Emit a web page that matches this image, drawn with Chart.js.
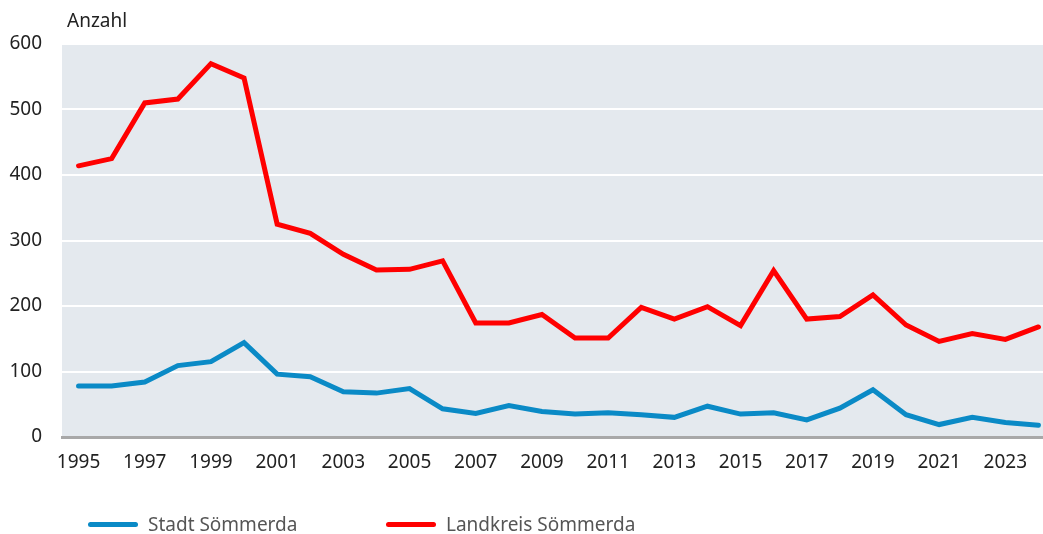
<!DOCTYPE html>
<html>
<head>
<meta charset="utf-8">
<script src="https://cdn.jsdelivr.net/npm/chart.js@4/dist/chart.umd.min.js"></script>
<style>
  html, body { margin: 0; padding: 0; background: #ffffff; overflow: hidden; }
  #wrap { position: relative; width: 1043px; height: 534px; overflow: hidden; }
  canvas { display: block; }
  #legend { position: absolute; top: 511px; left: 0; width: 1043px; height: 26px;
    font-family: "Source Sans Pro", "Noto Sans", sans-serif; font-size: 19px; color: #555555; }
  .item { position: absolute; top: 0; display: flex; align-items: center; }
  .sw { width: 50px; height: 5px; border-radius: 3px; margin-right: 10px; }
</style>
</head>
<body>
<div id="wrap">
  <canvas id="c" width="1055" height="534"></canvas>
  <div id="legend"></div>
</div>
<script>
const years = [1995,1996,1997,1998,1999,2000,2001,2002,2003,2004,2005,2006,2007,2008,2009,2010,2011,2012,2013,2014,2015,2016,2017,2018,2019,2020,2021,2022,2023,2024];
const stadt = [78,78,84,109,115,144,96,92,69,67,74,43,36,48,39,35,37,34,30,47,35,37,26,44,72,34,19,30,22,18];
const landkreis = [414,425,510,516,570,548,325,311,279,255,256,269,174,174,187,151,151,198,180,199,170,254,180,184,217,171,146,158,149,168];
const yTicks = [0,100,200,300,400,500,600];
const seriesNames = ["Stadt Sömmerda", "Landkreis Sömmerda"];
const seriesColors = ["#0a8ac6", "#ff0000"];
const unitLabel = "Anzahl";

const FONT = '"Source Sans Pro", "Noto Sans", sans-serif';

const bgPlugin = {
  id: 'bg',
  beforeDraw(chart) {
    const {ctx, chartArea: a} = chart;
    ctx.save();
    ctx.fillStyle = '#e4e9ee';
    ctx.fillRect(a.left, a.top, a.right - a.left, a.bottom - a.top);
    ctx.restore();
  },
  afterDraw(chart) {
    const {ctx} = chart;
    ctx.save();
    ctx.font = '19px ' + FONT;
    ctx.fillStyle = '#222222';
    ctx.textBaseline = 'middle';
    ctx.textAlign = 'left';
    ctx.fillText(unitLabel, 67, 22);
    ctx.restore();
  }
};

new Chart(document.getElementById('c'), {
  type: 'line',
  data: {
    labels: years.map(String),
    datasets: [
      { label: seriesNames[0], data: stadt, borderColor: seriesColors[0], backgroundColor: seriesColors[0],
        borderWidth: 5, pointRadius: 0, tension: 0, borderJoinStyle: 'miter', borderCapStyle: 'round' },
      { label: seriesNames[1], data: landkreis, borderColor: seriesColors[1], backgroundColor: seriesColors[1],
        borderWidth: 5, pointRadius: 0, tension: 0, borderJoinStyle: 'miter', borderCapStyle: 'round' }
    ]
  },
  options: {
    responsive: false,
    animation: false,
    layout: { padding: { top: 44, right: 0, left: 0, bottom: 0 } },
    plugins: { legend: { display: false }, tooltip: { enabled: false } },
    scales: {
      x: {
        type: 'category',
        offset: true,
        grid: { display: false, drawTicks: false },
        border: { display: true, color: '#a8a8a8', width: 3 },
        ticks: {
          autoSkip: false, maxRotation: 0, minRotation: 0, padding: 14,
          color: '#222222', font: { family: FONT, size: 19 },
          callback: function(v, i) { return i % 2 === 0 ? years[i] : ''; }
        },
        afterFit(scale) { scale.height = 97; }
      },
      y: {
        min: 0, max: 600,
        afterBuildTicks(scale) { scale.ticks = yTicks.map(v => ({ value: v })); },
        grid: { color: '#ffffff', lineWidth: 2, drawTicks: false },
        border: { display: false },
        ticks: { padding: 20, color: '#222222', font: { family: FONT, size: 19 } },
        afterFit(scale) { scale.width = 62; }
      }
    }
  },
  plugins: [bgPlugin]
});

const legend = document.getElementById('legend');
const lefts = [88, 386];
seriesNames.forEach((n, i) => {
  const d = document.createElement('div');
  d.className = 'item';
  d.style.left = lefts[i] + 'px';
  d.innerHTML = '<div class="sw" style="background:' + seriesColors[i] + '"></div><span>' + n + '</span>';
  legend.appendChild(d);
});
</script>
</body>
</html>
